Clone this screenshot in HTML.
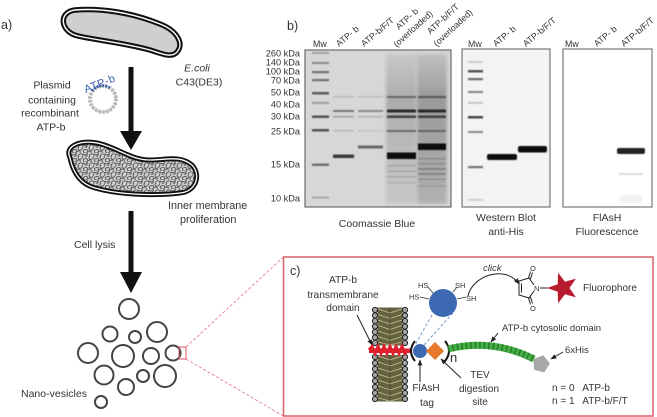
<!DOCTYPE html>
<html><head><meta charset="utf-8"><style>
html,body{margin:0;padding:0;background:#fff;}
svg{display:block;}
text{font-family:"Liberation Sans",sans-serif;fill:#333;}
</style></head><body>
<svg width="657" height="417" viewBox="0 0 657 417" xmlns="http://www.w3.org/2000/svg">
<defs>
 <filter id="bl" x="-20%" y="-300%" width="140%" height="700%"><feGaussianBlur stdDeviation="0.6"/></filter>
 <filter id="bl2" x="-20%" y="-20%" width="140%" height="140%"><feGaussianBlur stdDeviation="1.8"/></filter>
 <marker id="ah" viewBox="0 0 10 10" refX="9" refY="5" markerWidth="6" markerHeight="6" orient="auto"><path d="M0,1 L10,5 L0,9 z" fill="#222"/></marker>
 <pattern id="sq" width="11" height="9" patternUnits="userSpaceOnUse">
  <rect width="11" height="9" fill="#cfcfcf"/>
  <path d="M1,3 C3,-1 8,1 5,5 C3,8 -1,5 2,3 M6,7 C9,4 12,6 10,8.5 C8,10 5,8 7,6 M6,1 C8,2.5 10,2 11,0 M0,8 C2,6 4,7 3,9 M8,3 C10,4 11,2 9,1" stroke="#555" stroke-width="0.9" fill="none"/>
 </pattern>
 <linearGradient id="sm3" x1="0" y1="0" x2="0" y2="1"><stop offset="0" stop-color="#888" stop-opacity="0.2"/><stop offset="0.3" stop-color="#777" stop-opacity="0.45"/><stop offset="1" stop-color="#999" stop-opacity="0.25"/></linearGradient>
 <linearGradient id="sm4" x1="0" y1="0" x2="0" y2="1"><stop offset="0" stop-color="#777" stop-opacity="0.25"/><stop offset="0.3" stop-color="#666" stop-opacity="0.55"/><stop offset="1" stop-color="#777" stop-opacity="0.4"/></linearGradient>
</defs>

<!-- ===== Panel a ===== -->
<text x="1" y="29" font-size="12.5">a)</text>

<!-- bacterium 1 -->
<path d="M75,10 C100,8 130,12 160,24 C178,31 185,45 176,53 C170,58 160,53 150,50 C125,43 95,40 78,36 C60,32 58,12 75,10 Z" fill="#cfcfcf" stroke="#111" stroke-width="5.5"/>
<path d="M75,10 C100,8 130,12 160,24 C178,31 185,45 176,53 C170,58 160,53 150,50 C125,43 95,40 78,36 C60,32 58,12 75,10 Z" fill="none" stroke="#fff" stroke-width="1.4"/>

<!-- arrow 1 -->
<rect x="128.5" y="67" width="5" height="66" fill="#111"/>
<polygon points="120,131 142,131 131,150" fill="#111"/>

<text x="197" y="71.5" font-size="10.5" font-style="italic" text-anchor="middle">E.coli</text>
<text x="199" y="85.5" font-size="10.5" text-anchor="middle">C43(DE3)</text>

<text x="52" y="88.5" font-size="10.5" text-anchor="middle">Plasmid</text>
<text x="52" y="103.5" font-size="10.5" text-anchor="middle">containing</text>
<text x="50" y="116.5" font-size="10.5" text-anchor="middle">recombinant</text>
<text x="51" y="130.5" font-size="10.5" text-anchor="middle">ATP-b</text>

<!-- plasmid -->
<circle cx="103" cy="99" r="13" fill="none" stroke="#bdbdbd" stroke-width="4" stroke-dasharray="2.5 1.2"/>
<circle cx="103" cy="99" r="13" fill="none" stroke="#8a8a8a" stroke-width="1" stroke-dasharray="1 2.5"/>
<path d="M92,91 A13,13 0 0 1 110,88" fill="none" stroke="#3a5fb0" stroke-width="2.5" stroke-dasharray="2 1"/>
<text x="101" y="87" font-size="11" style="fill:#3a5fb0" text-anchor="middle" transform="rotate(-22 101 87)" letter-spacing="0.5">ATP-b</text>

<!-- bacterium 2 -->
<path d="M70,158 C64,145 82,140 97,143 C117,147 130,160 150,160 C167,160 180,155 192,165 C202,176 195,192 180,193 C155,196 120,195 95,188 C80,184 73,172 70,158 Z" fill="url(#sq)" stroke="#111" stroke-width="5"/>
<path d="M70,158 C64,145 82,140 97,143 C117,147 130,160 150,160 C167,160 180,155 192,165 C202,176 195,192 180,193 C155,196 120,195 95,188 C80,184 73,172 70,158 Z" fill="none" stroke="#fff" stroke-width="1.3"/>

<text x="168" y="209" font-size="10.8">Inner membrane</text>
<text x="180" y="223" font-size="10.8">proliferation</text>

<!-- arrow 2 -->
<rect x="128.5" y="211" width="5" height="63" fill="#111"/>
<polygon points="120,272 142,272 131,293" fill="#111"/>
<text x="74" y="248" font-size="10.5">Cell lysis</text>

<!-- vesicles -->
<g fill="none" stroke="#444" stroke-width="2">
 <circle cx="129" cy="309" r="10"/>
 <circle cx="110" cy="334" r="7.5"/>
 <circle cx="135" cy="337" r="6"/>
 <circle cx="157" cy="332" r="10"/>
 <circle cx="88" cy="353" r="10"/>
 <circle cx="123" cy="356" r="11"/>
 <circle cx="151" cy="356" r="8"/>
 <circle cx="173" cy="353" r="7.5"/>
 <circle cx="104" cy="375" r="9.5"/>
 <circle cx="143" cy="376" r="6"/>
 <circle cx="165" cy="376" r="11"/>
 <circle cx="126" cy="387" r="8"/>
 <circle cx="101" cy="402" r="6"/>
</g>
<text x="21" y="397" font-size="10.5">Nano-vesicles</text>

<!-- zoom indicator -->
<rect x="179" y="347" width="7" height="12" fill="none" stroke="#e05060" stroke-width="1"/>
<line x1="186" y1="347" x2="283.5" y2="257" stroke="#e07080" stroke-width="0.8" stroke-dasharray="3 2"/>
<line x1="186" y1="359" x2="283.5" y2="416" stroke="#e07080" stroke-width="0.8" stroke-dasharray="3 2"/>

<!-- ===== Panel b ===== -->
<text x="287" y="30" font-size="12.5">b)</text>

<g font-size="9.2" text-anchor="end">
 <text x="300" y="56.5">260 kDa</text>
 <text x="300" y="65.5">140 kDa</text>
 <text x="300" y="74.5">100 kDa</text>
 <text x="300" y="83.5">70 kDa</text>
 <text x="300" y="95.5">50 kDa</text>
 <text x="300" y="107.5">40 kDa</text>
 <text x="300" y="119.5">30 kDa</text>
 <text x="300" y="134.5">25 kDa</text>
 <text x="300" y="167.5">15 kDa</text>
 <text x="300" y="201.5">10 kDa</text>
</g>

<!-- lane labels -->
<g font-size="8.8">
 <text x="313" y="47">Mw</text>
 <text x="339" y="47" transform="rotate(-40 339 47)">ATP- b</text>
 <text x="364" y="47" transform="rotate(-40 364 47)">ATP-b/F/T</text>
 <text x="409" y="21" text-anchor="middle" transform="rotate(-42 409 21)">ATP- b</text>
 <text x="415" y="31" text-anchor="middle" transform="rotate(-42 415 31)">(overloaded)</text>
 <text x="445" y="21" text-anchor="middle" transform="rotate(-43 445 21)">ATP-b/F/T</text>
 <text x="455" y="30" text-anchor="middle" transform="rotate(-43 455 30)">(overloaded)</text>

 <text x="468" y="47">Mw</text>
 <text x="496" y="47" transform="rotate(-40 496 47)">ATP- b</text>
 <text x="526" y="47" transform="rotate(-40 526 47)">ATP-b/F/T</text>

 <text x="565" y="47">Mw</text>
 <text x="597" y="47" transform="rotate(-40 597 47)">ATP- b</text>
 <text x="624" y="47" transform="rotate(-40 624 47)">ATP-b/F/T</text>
</g>

<!-- Coomassie gel -->
<rect x="305" y="50" width="146" height="157" fill="#d7d7d7" stroke="#6a6a6a" stroke-width="1.2"/>
<rect x="386" y="54" width="30" height="150" fill="url(#sm3)" filter="url(#bl2)"/>
<rect x="417" y="54" width="30" height="150" fill="url(#sm4)" filter="url(#bl2)"/>
<g filter="url(#bl)">
 <!-- Mw -->
 <rect x="312" y="52" width="17" height="2" fill="#777" opacity="0.6"/>
 <rect x="312" y="62" width="17" height="2" fill="#666" opacity="0.7"/>
 <rect x="312" y="71" width="17" height="2.2" fill="#555" opacity="0.8"/>
 <rect x="312" y="79" width="17" height="2.2" fill="#555" opacity="0.8"/>
 <rect x="312" y="92" width="17" height="2.5" fill="#444" opacity="0.85"/>
 <rect x="312" y="102" width="17" height="2" fill="#777" opacity="0.6"/>
 <rect x="312" y="115.5" width="17" height="2.5" fill="#444" opacity="0.9"/>
 <rect x="312" y="129" width="17" height="2.5" fill="#444" opacity="0.9"/>
 <rect x="312" y="163.5" width="17" height="2.5" fill="#555" opacity="0.8"/>
 <rect x="312" y="196.5" width="17" height="2" fill="#888" opacity="0.6"/>
 <!-- L1 -->
 <rect x="333" y="96" width="21" height="1.5" fill="#999" opacity="0.5"/>
 <rect x="333" y="110" width="21" height="2" fill="#555" opacity="0.75"/>
 <rect x="333" y="116" width="21" height="1.5" fill="#777" opacity="0.6"/>
 <rect x="333" y="130" width="21" height="1.5" fill="#999" opacity="0.5"/>
 <rect x="333" y="154.5" width="21" height="3.5" fill="#333" opacity="0.95"/>
 <!-- L2 -->
 <rect x="358" y="96" width="25" height="1.5" fill="#999" opacity="0.45"/>
 <rect x="358" y="110" width="25" height="2" fill="#666" opacity="0.7"/>
 <rect x="358" y="116" width="25" height="1.5" fill="#888" opacity="0.5"/>
 <rect x="358" y="130" width="25" height="1.5" fill="#aaa" opacity="0.45"/>
 <rect x="358" y="145.5" width="25" height="3" fill="#555" opacity="0.85"/>
 <!-- L3 -->
 <rect x="387" y="96" width="29" height="2" fill="#555" opacity="0.8"/>
 <rect x="387" y="109.5" width="29" height="3" fill="#222" opacity="0.95"/>
 <rect x="387" y="115.5" width="29" height="2.5" fill="#333" opacity="0.9"/>
 <rect x="387" y="130" width="29" height="2" fill="#555" opacity="0.8"/>
 <rect x="387" y="152.5" width="29" height="6.5" fill="#111"/>
 <rect x="387" y="165" width="29" height="1.5" fill="#888" opacity="0.5"/>
 <rect x="387" y="170.5" width="29" height="1.5" fill="#888" opacity="0.5"/>
 <rect x="387" y="176" width="29" height="1.5" fill="#888" opacity="0.5"/>
 <rect x="387" y="182" width="29" height="1.5" fill="#999" opacity="0.45"/>
 <!-- L4 -->
 <rect x="418" y="96" width="28" height="2" fill="#444" opacity="0.8"/>
 <rect x="418" y="109.5" width="28" height="3" fill="#222" opacity="0.95"/>
 <rect x="418" y="115.5" width="28" height="2.5" fill="#333" opacity="0.9"/>
 <rect x="418" y="130" width="28" height="2" fill="#555" opacity="0.8"/>
 <rect x="418" y="143.5" width="28" height="6.5" fill="#111"/>
 <rect x="418" y="158" width="28" height="1.5" fill="#777" opacity="0.6"/>
 <rect x="418" y="163" width="28" height="1.5" fill="#777" opacity="0.6"/>
 <rect x="418" y="168" width="28" height="1.8" fill="#666" opacity="0.6"/>
 <rect x="418" y="173" width="28" height="1.8" fill="#666" opacity="0.6"/>
 <rect x="418" y="178.5" width="28" height="1.5" fill="#777" opacity="0.55"/>
 <rect x="418" y="185" width="28" height="1.5" fill="#888" opacity="0.5"/>
</g>
<text x="377" y="227" font-size="10.5" text-anchor="middle">Coomassie Blue</text>

<!-- Western blot -->
<rect x="462" y="49" width="88" height="158" fill="#f3f3f3" stroke="#777" stroke-width="1.2"/>
<g filter="url(#bl)">
 <rect x="468" y="61" width="15" height="1.8" fill="#aaa" opacity="0.6"/>
 <rect x="468" y="70" width="15" height="2.5" fill="#444" opacity="0.9"/>
 <rect x="468" y="78" width="15" height="2.2" fill="#555" opacity="0.85"/>
 <rect x="468" y="91" width="15" height="2" fill="#666" opacity="0.8"/>
 <rect x="468" y="102" width="15" height="1.8" fill="#999" opacity="0.55"/>
 <rect x="468" y="116" width="15" height="2.5" fill="#333" opacity="0.9"/>
 <rect x="468" y="131" width="15" height="2" fill="#666" opacity="0.75"/>
 <rect x="468" y="166" width="15" height="2.2" fill="#555" opacity="0.8"/>
 <rect x="468" y="199" width="15" height="1.8" fill="#aaa" opacity="0.55"/>
 <rect x="487" y="154" width="30" height="6" rx="2" fill="#111"/>
 <rect x="518" y="146" width="29" height="6.5" rx="2" fill="#111"/>
</g>
<text x="506" y="221" font-size="10.5" text-anchor="middle">Western Blot</text>
<text x="506" y="235" font-size="10.5" text-anchor="middle">anti-His</text>

<!-- FlAsH -->
<rect x="563" y="49" width="89" height="158" fill="#fff" stroke="#777" stroke-width="1.2"/>
<g filter="url(#bl)">
 <rect x="617" y="148" width="28" height="6" rx="2" fill="#222"/>
 <rect x="619" y="173" width="24" height="2" fill="#ddd"/>
 <rect x="620" y="195" width="22" height="8" fill="#f2f2f2"/>
</g>
<text x="607" y="221" font-size="10.5" text-anchor="middle">FlAsH</text>
<text x="607" y="235" font-size="10.5" text-anchor="middle">Fluorescence</text>

<!-- ===== Panel c ===== -->
<rect x="283.5" y="257" width="369.5" height="159" fill="#fff" stroke="#d9606a" stroke-width="1.5"/>
<text x="290" y="275" font-size="12.5">c)</text>

<text x="343" y="283" font-size="10.2" text-anchor="middle">ATP-b</text>
<text x="343" y="298" font-size="10.2" text-anchor="middle">transmembrane</text>
<text x="343" y="311" font-size="10.2" text-anchor="middle">domain</text>
<line x1="357" y1="315" x2="372" y2="345" stroke="#222" stroke-width="1" marker-end="url(#ah)"/>

<!-- lipid bilayer -->
<rect x="377.5" y="307.5" width="25" height="38" fill="#66643f"/>
<rect x="377.5" y="355" width="25" height="46.5" fill="#66643f"/>
<g stroke="#c9c69c" stroke-width="0.8" fill="none">
 <path d="M378,309 L390,313 L402,309 M378,314.5 L390,318.5 L402,314.5 M378,320 L390,324 L402,320 M378,325.5 L390,329.5 L402,325.5 M378,331 L390,335 L402,331 M378,336.5 L390,340.5 L402,336.5 M378,342 L390,345 L402,342"/>
 <path d="M378,356 L390,360 L402,356 M378,362 L390,366 L402,362 M378,368 L390,372 L402,368 M378,374 L390,378 L402,374 M378,380 L390,384 L402,380 M378,386 L390,390 L402,386 M378,392 L390,396 L402,392 M378,398 L390,401 L402,398"/>
 <line x1="390" y1="308" x2="390" y2="345" stroke="#4a4930"/>
 <line x1="390" y1="355" x2="390" y2="401" stroke="#4a4930"/>
</g>
<g fill="#a5a5a5" stroke="#222" stroke-width="1">
 <circle cx="375" cy="310" r="2.6"/><circle cx="375" cy="315.5" r="2.6"/><circle cx="375" cy="321" r="2.6"/><circle cx="375" cy="326.5" r="2.6"/><circle cx="375" cy="332" r="2.6"/><circle cx="375" cy="337.5" r="2.6"/><circle cx="375" cy="343" r="2.6"/>
 <circle cx="405" cy="310" r="2.6"/><circle cx="405" cy="315.5" r="2.6"/><circle cx="405" cy="321" r="2.6"/><circle cx="405" cy="326.5" r="2.6"/><circle cx="405" cy="332" r="2.6"/><circle cx="405" cy="337.5" r="2.6"/><circle cx="405" cy="343" r="2.6"/>
 <circle cx="375" cy="357" r="2.6"/><circle cx="375" cy="363" r="2.6"/><circle cx="375" cy="369" r="2.6"/><circle cx="375" cy="375" r="2.6"/><circle cx="375" cy="381" r="2.6"/><circle cx="375" cy="387" r="2.6"/><circle cx="375" cy="393" r="2.6"/><circle cx="375" cy="399" r="2.6"/>
 <circle cx="405" cy="357" r="2.6"/><circle cx="405" cy="363" r="2.6"/><circle cx="405" cy="369" r="2.6"/><circle cx="405" cy="375" r="2.6"/><circle cx="405" cy="381" r="2.6"/><circle cx="405" cy="387" r="2.6"/><circle cx="405" cy="393" r="2.6"/><circle cx="405" cy="399" r="2.6"/>
</g>

<!-- red TM helix -->
<rect x="369" y="348.5" width="42" height="4.5" fill="#e0202a"/>
<path d="M369,350 l3,-3.5 l3,7 l3,-7 l3,7 l3,-7 l3,7 l3,-7 l3,7 l3,-7 l3,7 l3,-7 l3,7 l3,-3.5" stroke="#e0202a" stroke-width="3" fill="none"/>

<!-- brackets -->
<path d="M415,341 Q407,351 415,361" fill="none" stroke="#111" stroke-width="2"/>
<path d="M445,341 Q453,351 445,361" fill="none" stroke="#111" stroke-width="2"/>
<text x="450" y="362" font-size="13">n</text>

<!-- FlAsH tag + dashed to big circle -->
<line x1="432" y1="315" x2="415" y2="345" stroke="#7d9bd0" stroke-width="1" stroke-dasharray="3 2"/>
<line x1="453" y1="313" x2="424" y2="345" stroke="#7d9bd0" stroke-width="1" stroke-dasharray="3 2"/>
<circle cx="420" cy="351" r="7" fill="#3d68b2"/>
<polygon points="435,342 444,351 435,360 426,351" fill="#e8792a"/>

<circle cx="443" cy="303" r="14" fill="#3d68b2"/>
<g stroke="#333" stroke-width="0.8">
 <line x1="428" y1="287" x2="433" y2="293"/>
 <line x1="457" y1="287" x2="453" y2="292"/>
 <line x1="420" y1="297" x2="429" y2="299"/>
 <line x1="466" y1="297" x2="457" y2="299"/>
</g>
<g font-size="7.5">
 <text x="418" y="288">HS</text>
 <text x="455" y="288">SH</text>
 <text x="409" y="299.5">HS</text>
 <text x="466" y="301">SH</text>
</g>

<!-- click arrow -->
<path d="M468,296 C472,276 505,264 519,284" fill="none" stroke="#222" stroke-width="1" marker-end="url(#ah)"/>
<text x="483" y="271" font-size="9.5" font-style="italic">click</text>

<!-- maleimide -->
<g stroke="#222" stroke-width="1" fill="none">
 <path d="M534,285 L529,278 L519,281 L519,295 L529,298 L534,291"/>
 <line x1="521.5" y1="283.5" x2="521.5" y2="292.5"/>
 <line x1="528.5" y1="278" x2="530.5" y2="271.5"/>
 <line x1="530.5" y1="279" x2="532.5" y2="272.5"/>
 <line x1="528.5" y1="298" x2="530.5" y2="304.5"/>
 <line x1="530.5" y1="297" x2="532.5" y2="303.5"/>
 <line x1="540" y1="288" x2="548" y2="288"/>
</g>
<g font-size="7.5">
 <text x="534" y="291">N</text>
 <text x="530" y="271">O</text>
 <text x="530" y="311">O</text>
</g>

<!-- star -->
<polygon points="547,288 557.7,284.2 558.1,272.8 565,281.8 575.9,278.6 569.5,288 575.9,297.4 565,294.2 558.1,303.2 557.7,291.8" fill="#b81c2e"/>
<text x="583" y="291" font-size="10">Fluorophore</text>

<!-- green helix -->
<path d="M448,349 Q492,338 534,359" fill="none" stroke="#43b043" stroke-width="7"/>
<path d="M448,349 Q492,338 534,359" fill="none" stroke="#2b7a2b" stroke-width="7" stroke-dasharray="1.5 3"/>
<text x="502" y="331" font-size="9.5">ATP-b cytosolic domain</text>
<line x1="498" y1="333" x2="491" y2="342" stroke="#222" stroke-width="1" marker-end="url(#ah)"/>

<!-- 6xHis -->
<polygon points="543.3,355.3 550,363.5 544.2,372.4 534,369.7 533.4,359.1" fill="#a8a8a8"/>
<text x="565" y="353" font-size="9.5">6xHis</text>
<line x1="563" y1="352" x2="551" y2="359" stroke="#222" stroke-width="1" marker-end="url(#ah)"/>

<!-- FlAsH / TEV labels -->
<line x1="420" y1="382" x2="420" y2="360" stroke="#222" stroke-width="1" marker-end="url(#ah)"/>
<text x="426" y="391" font-size="10" text-anchor="middle">FlAsH</text>
<text x="427" y="406" font-size="10" text-anchor="middle">tag</text>
<line x1="461" y1="378" x2="441" y2="359" stroke="#222" stroke-width="1" marker-end="url(#ah)"/>
<text x="480" y="378" font-size="10" text-anchor="middle">TEV</text>
<text x="479" y="392" font-size="10" text-anchor="middle">digestion</text>
<text x="480" y="405" font-size="10" text-anchor="middle">site</text>

<text x="552" y="391" font-size="10" xml:space="preserve">n = 0   ATP-b</text>
<text x="552" y="404" font-size="10" xml:space="preserve">n = 1   ATP-b/F/T</text>
</svg>
</body></html>
